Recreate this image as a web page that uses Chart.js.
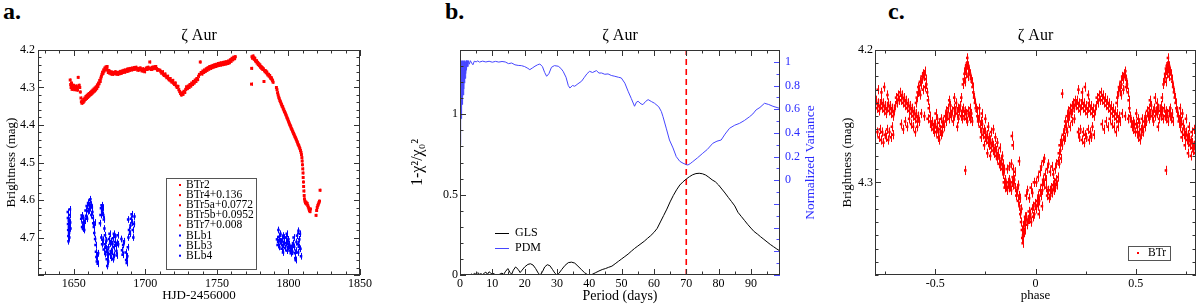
<!DOCTYPE html>
<html>
<head>
<title>zeta_aur</title>
<script src="https://cdn.jsdelivr.net/npm/chart.js"></script>
<style>
    body { margin: 0; background: #fff; width: 1200px; height: 305px; position: relative; overflow: hidden; }
    canvas { position: absolute; top: 0; }
    .tag { position: absolute; top: -1px; font: bold 24px/24px "Liberation Serif", "DejaVu Serif", serif; color: #000; }
</style>
</head>
<body>
<div class="tag" style="left:3px">a.</div>
<div class="tag" style="left:445px">b.</div>
<div class="tag" style="left:888px">c.</div>
<canvas id="chartA" width="400" height="305" style="left:0"></canvas>
<canvas id="chartB" width="420" height="305" style="left:400px"></canvas>
<canvas id="chartC" width="380" height="305" style="left:820px"></canvas>
<script>
// ---- panel a: light curves [HJD-2456000, mag] ----
const btr2 = [[1647.5,4.280],[1647.8,4.292],[1648.1,4.300],[1648.4,4.288],[1648.8,4.305],[1649.1,4.296],[1649.5,4.302],[1649.8,4.294],[1650.2,4.300],[1650.6,4.306],[1651.0,4.298],[1651.4,4.303],[1651.8,4.296],[1652.2,4.301],[1652.6,4.307],[1653.1,4.273],[1653.4,4.299],[1653.8,4.294],[1654.2,4.300],[1654.6,4.312],[1655.0,4.328],[1655.3,4.338],[1655.7,4.342],[1656.1,4.336],[1656.5,4.340],[1656.9,4.332],[1657.3,4.336],[1657.7,4.328],[1658.1,4.332],[1658.5,4.324],[1658.9,4.329],[1659.3,4.321],[1659.7,4.326],[1660.1,4.318],[1660.5,4.323],[1660.9,4.316],[1661.3,4.320],[1661.7,4.313],[1662.1,4.318],[1662.5,4.310],[1662.9,4.315],[1663.3,4.307],[1663.7,4.312],[1664.1,4.304],[1664.5,4.309],[1664.9,4.301],[1665.3,4.306],[1665.7,4.298],[1666.1,4.302],[1666.5,4.293],[1666.9,4.297],[1667.3,4.288],[1667.7,4.290],[1668.1,4.281],[1668.5,4.284],[1668.9,4.275],[1669.3,4.270],[1669.7,4.265],[1670.1,4.259],[1670.5,4.262],[1670.9,4.253],[1671.3,4.256],[1671.7,4.248],[1672.1,4.252],[1672.5,4.245],[1672.9,4.250],[1673.3,4.244],[1673.7,4.254],[1674.1,4.260],[1674.6,4.255],[1675.1,4.262],[1675.6,4.258],[1676.1,4.264],[1676.7,4.259],[1677.3,4.265],[1677.9,4.260],[1678.5,4.263],[1679.1,4.258],[1679.7,4.264],[1680.3,4.260],[1680.9,4.265],[1681.5,4.259],[1682.1,4.263],[1682.7,4.257],[1683.3,4.262],[1683.9,4.256],[1684.5,4.260],[1685.1,4.254],[1685.7,4.259],[1686.3,4.253],[1686.9,4.257],[1687.5,4.251],[1688.1,4.256],[1688.7,4.250],[1689.3,4.254],[1689.9,4.249],[1690.5,4.253],[1691.1,4.248],[1691.7,4.252],[1692.3,4.247],[1692.9,4.251],[1693.5,4.246],[1694.1,4.250],[1694.7,4.254],[1695.3,4.249],[1695.9,4.253],[1696.5,4.248],[1697.1,4.252],[1697.7,4.256],[1698.3,4.250],[1698.9,4.254],[1699.5,4.258],[1700.1,4.252],[1700.7,4.248],[1701.3,4.252],[1701.9,4.246],[1702.5,4.250],[1703.1,4.232],[1703.7,4.248],[1704.3,4.252],[1704.9,4.246],[1705.5,4.250],[1706.1,4.245],[1706.7,4.249],[1707.3,4.244],[1707.9,4.250],[1708.5,4.254],[1709.0,4.252]];
const btr4 = [[1710.2,4.254],[1710.8,4.258],[1711.4,4.262],[1712.0,4.258],[1712.6,4.265],[1713.2,4.268],[1713.8,4.264],[1714.4,4.270],[1715.0,4.274],[1715.6,4.270],[1716.2,4.277],[1716.8,4.280],[1717.4,4.276],[1718.0,4.283],[1718.6,4.286],[1719.2,4.281],[1719.8,4.289],[1720.4,4.292],[1721.0,4.288],[1721.6,4.296],[1722.2,4.300],[1722.8,4.297],[1723.4,4.306],[1724.0,4.311],[1724.6,4.316],[1725.2,4.320],[1725.8,4.314],[1726.4,4.318],[1727.0,4.310],[1727.6,4.313],[1728.2,4.305],[1728.8,4.298],[1729.4,4.303],[1730.0,4.296],[1730.6,4.300],[1731.2,4.292],[1731.8,4.296],[1732.4,4.288],[1733.0,4.292],[1733.6,4.284],[1734.2,4.288],[1734.8,4.280],[1735.4,4.284],[1736.0,4.276],[1736.6,4.279],[1737.2,4.270],[1737.8,4.265],[1738.4,4.232],[1739.0,4.260],[1739.6,4.264],[1740.2,4.256],[1740.8,4.260],[1741.4,4.253],[1742.0,4.257],[1742.6,4.250],[1743.2,4.254],[1743.8,4.247],[1744.4,4.251],[1745.0,4.244],[1745.6,4.249],[1746.2,4.243],[1746.8,4.247],[1747.4,4.241],[1748.0,4.245],[1748.6,4.239],[1749.2,4.244],[1749.8,4.238],[1750.4,4.242],[1751.0,4.236],[1751.6,4.241],[1752.2,4.235],[1752.8,4.240],[1753.4,4.234],[1754.0,4.239],[1754.6,4.233],[1755.2,4.238],[1755.8,4.232],[1756.4,4.237],[1757.0,4.231],[1757.6,4.236],[1758.2,4.229],[1758.8,4.234],[1759.4,4.226],[1760.0,4.230],[1760.6,4.222],[1761.2,4.226],[1761.8,4.219],[1762.4,4.223],[1762.9,4.218]];
const btr5a = [[1774.2,4.291],[1774.3,4.249],[1774.5,4.218],[1774.9,4.222],[1775.3,4.216],[1775.7,4.221],[1776.1,4.225],[1776.5,4.222],[1776.9,4.228],[1777.3,4.231],[1777.7,4.229],[1778.1,4.235],[1778.5,4.233],[1778.9,4.239],[1779.3,4.237],[1779.7,4.242],[1780.1,4.240],[1780.5,4.246],[1780.9,4.244],[1781.3,4.249],[1781.7,4.247],[1782.1,4.252],[1782.5,4.250],[1782.9,4.284],[1783.3,4.255],[1783.7,4.258],[1784.1,4.256],[1784.5,4.261],[1784.9,4.259],[1785.3,4.264],[1785.7,4.267],[1786.1,4.265],[1786.5,4.270],[1786.9,4.268],[1787.3,4.273],[1787.7,4.276],[1788.1,4.274],[1788.5,4.279],[1788.9,4.282],[1789.3,4.286]];
const btr5b = [[1791.6,4.300],[1792.0,4.306],[1792.4,4.314],[1792.8,4.320],[1793.2,4.326],[1793.6,4.330],[1794.0,4.335],[1794.4,4.338],[1794.8,4.342],[1795.2,4.346],[1795.6,4.350],[1796.0,4.352],[1796.4,4.357],[1796.8,4.360],[1797.2,4.364],[1797.6,4.367],[1798.0,4.371],[1798.4,4.374],[1798.8,4.379],[1799.2,4.382],[1799.6,4.386],[1800.0,4.390],[1800.4,4.394],[1800.8,4.398],[1801.2,4.401],[1801.6,4.405],[1802.0,4.409],[1802.4,4.412],[1802.8,4.416],[1803.2,4.419],[1803.6,4.423],[1804.0,4.426],[1804.4,4.430],[1804.8,4.433],[1805.2,4.437],[1805.6,4.440],[1806.0,4.444],[1806.4,4.448],[1806.8,4.452],[1807.2,4.455],[1807.6,4.459],[1808.0,4.463],[1808.4,4.468],[1808.8,4.473],[1809.1,4.479],[1809.4,4.487],[1809.6,4.496],[1809.8,4.506],[1810.0,4.517],[1810.2,4.528],[1810.3,4.540],[1810.5,4.552],[1810.6,4.564],[1810.8,4.576],[1811.0,4.588],[1811.2,4.597]];
const btr7 = [[1811.5,4.603],[1811.9,4.608],[1812.3,4.606],[1812.7,4.611],[1813.1,4.609],[1813.5,4.615],[1813.9,4.619],[1814.3,4.624],[1814.7,4.628],[1815.1,4.631],[1815.4,4.624],[1819.3,4.641],[1819.7,4.628],[1820.1,4.620],[1820.5,4.615],[1820.9,4.611],[1821.3,4.607],[1821.7,4.603],[1822.1,4.574]];
const blb1 = [[1645.8,4.632],[1645.9,4.648],[1646.0,4.664],[1646.1,4.680],[1646.2,4.696],[1646.3,4.710],[1646.5,4.655],[1646.6,4.672],[1646.7,4.688],[1646.9,4.700],[1647.1,4.640],[1647.3,4.625],[1647.5,4.660],[1647.7,4.676],[1655.2,4.650],[1655.5,4.641],[1655.8,4.672],[1656.1,4.660],[1656.4,4.676],[1656.7,4.648],[1657.0,4.665],[1657.3,4.680],[1657.6,4.655]];
const blb3 = [[1658.2,4.628],[1658.6,4.642],[1659.0,4.616],[1659.3,4.650],[1659.6,4.630],[1660.0,4.608],[1660.3,4.628],[1660.6,4.614],[1661.0,4.600],[1661.3,4.622],[1661.6,4.598],[1662.0,4.612],[1662.3,4.640],[1662.6,4.620],[1663.0,4.632],[1663.3,4.648],[1663.6,4.662],[1664.0,4.672],[1664.3,4.688],[1664.6,4.660],[1664.9,4.704],[1665.2,4.720],[1665.5,4.738],[1665.8,4.752],[1666.1,4.764],[1666.4,4.748],[1666.7,4.770],[1667.0,4.742],[1668.3,4.662],[1668.7,4.640],[1669.0,4.622],[1669.4,4.614],[1669.8,4.630],[1670.2,4.620],[1670.6,4.640],[1671.0,4.652],[1671.4,4.676],[1671.8,4.694],[1669.3,4.700],[1669.8,4.718],[1670.4,4.706],[1670.9,4.732],[1671.5,4.718],[1672.0,4.744],[1672.5,4.728],[1673.0,4.758],[1673.4,4.776],[1673.8,4.746],[1674.2,4.726],[1674.6,4.704],[1675.0,4.690],[1675.4,4.716],[1675.8,4.736],[1676.2,4.754],[1676.6,4.738],[1677.0,4.718],[1677.4,4.702],[1677.8,4.726],[1678.2,4.746],[1678.6,4.712],[1679.0,4.698],[1679.4,4.722],[1679.8,4.736],[1680.2,4.714],[1680.6,4.694],[1681.0,4.718],[1673.2,4.738],[1674.0,4.764],[1676.0,4.710],[1678.0,4.690],[1672.8,4.708],[1675.2,4.744],[1677.6,4.758],[1680.0,4.748],[1683.3,4.704],[1683.7,4.734],[1684.1,4.746],[1684.5,4.720],[1685.0,4.710],[1686.2,4.740],[1686.6,4.760],[1687.0,4.768],[1687.4,4.750],[1687.8,4.726],[1688.2,4.700],[1688.6,4.680],[1688.0,4.652],[1689.2,4.690],[1689.6,4.668],[1690.0,4.650],[1690.4,4.638],[1690.8,4.660],[1691.2,4.680],[1691.6,4.700],[1692.0,4.664],[1692.4,4.644]];
const blb4 = [[1792.0,4.705],[1792.4,4.720],[1792.8,4.712],[1793.2,4.698],[1793.6,4.725],[1794.0,4.710],[1794.4,4.690],[1794.8,4.715],[1795.2,4.730],[1795.6,4.705],[1796.0,4.695],[1796.4,4.720],[1796.8,4.712],[1797.2,4.700],[1797.6,4.728],[1798.0,4.715],[1798.4,4.700],[1798.8,4.690],[1799.2,4.712],[1799.6,4.725],[1800.0,4.705],[1800.4,4.718],[1800.8,4.735],[1801.2,4.728],[1801.6,4.742],[1802.0,4.730],[1802.4,4.722],[1802.8,4.738],[1803.2,4.715],[1803.6,4.700],[1804.0,4.725],[1804.4,4.742],[1804.8,4.755],[1805.2,4.735],[1805.6,4.712],[1806.0,4.695],[1806.4,4.718],[1806.8,4.740],[1807.2,4.725],[1807.6,4.705],[1808.0,4.690],[1808.4,4.730],[1808.8,4.750],[1793.0,4.680],[1796.2,4.740],[1799.0,4.735],[1805.0,4.760],[1807.0,4.682]];

// ---- panel b: periodograms [period (days), value] ----
const gls = [[0,0],[0.5,0.002],[1,0],[1.5,0.004],[2,0.001],[2.5,0.003],[3,0],[3.5,0.006],[4,0.002],[4.5,0.01],[5,0.004],[5.5,0.015],[6,0.005],[6.5,0.008],[7,0.002],[7.5,0.012],[8,0.018],[8.5,0.004],[9,0.02],[9.5,0.012],[10,0.004],[10.5,0.01],[11,0],[12,0.002],[13,0.012],[13.5,0.003],[14,0.02],[14.8,0.04],[15.5,0.015],[16,0.005],[16.5,0.03],[17.2,0.05],[18,0.035],[18.6,0.015],[19.2,0.03],[20,0.05],[21,0.066],[21.8,0.07],[22.6,0.062],[23.4,0.04],[24.2,0.012],[24.8,0],[25.5,0.02],[26.2,0.05],[27,0.064],[27.8,0.058],[28.6,0.035],[29.4,0.01],[30,0],[30.6,0.01],[31.5,0.035],[32.5,0.06],[33.5,0.077],[34.5,0.08],[35.5,0.074],[36.5,0.055],[37.5,0.035],[38.5,0.015],[39.6,0],[40.5,0],[41,0.005],[42,0.015],[43,0.025],[44,0.034],[45,0.04],[46,0.048],[47,0.055],[48,0.07],[49,0.085],[50,0.1],[51,0.115],[52,0.13],[53,0.148],[54,0.165],[55,0.18],[56,0.195],[57,0.21],[58,0.228],[59,0.245],[60,0.265],[61,0.29],[62,0.33],[63,0.37],[64,0.41],[65,0.455],[66,0.495],[67,0.53],[68,0.56],[69,0.58],[70,0.597],[71,0.612],[72,0.624],[73,0.631],[74,0.633],[75,0.63],[76,0.622],[77,0.608],[78,0.592],[79,0.58],[80,0.56],[81,0.535],[82,0.51],[83,0.483],[84,0.457],[85,0.43],[86,0.39],[87,0.365],[88,0.34],[89,0.315],[90,0.292],[91,0.27],[92,0.255],[93,0.238],[94,0.222],[95,0.206],[96,0.19],[97,0.176],[98,0.162],[98.8,0.152]];
const pdm = [[0,0.30],[0.1,0.95],[0.15,0.40],[0.2,1.00],[0.25,0.46],[0.3,0.99],[0.35,0.52],[0.4,1.01],[0.45,0.56],[0.5,0.99],[0.55,0.60],[0.6,1.00],[0.65,0.64],[0.7,1.01],[0.8,0.68],[0.9,1.00],[1.0,0.72],[1.1,1.01],[1.2,0.77],[1.3,1.00],[1.4,0.82],[1.5,1.01],[1.6,0.86],[1.7,1.00],[1.8,0.90],[1.9,1.01],[2.0,0.93],[2.2,1.01],[2.4,0.96],[2.6,1.01],[2.9,0.98],[3.2,1.01],[3.6,0.99],[4.0,0.975],[4.4,1.005],[5,1.0],[5.5,1.008],[6,0.998],[7,1.006],[8,0.999],[9,1.005],[10,0.997],[11,1.004],[12,0.998],[13,1.003],[14,0.999],[15,0.985],[16,0.99],[17,0.975],[18,0.97],[19,0.968],[20,0.96],[21,0.945],[21.6,0.934],[22.5,0.95],[23.2,0.963],[24,0.975],[24.7,0.982],[25.5,0.96],[26.2,0.91],[26.8,0.878],[27.5,0.9],[28.3,0.954],[29.2,0.968],[30.4,0.963],[31.2,0.945],[31.9,0.92],[32.8,0.87],[33.5,0.8],[34,0.779],[34.8,0.8],[35.5,0.794],[36.5,0.815],[37.6,0.836],[38.5,0.87],[39.3,0.9],[40.1,0.92],[41,0.91],[42.2,0.926],[43,0.905],[43.8,0.906],[44.8,0.895],[45.8,0.898],[46.8,0.885],[47.9,0.878],[49,0.87],[49.9,0.864],[51,0.82],[52,0.752],[53,0.69],[54,0.625],[54.6,0.66],[55.1,0.667],[56,0.645],[56.6,0.639],[57.4,0.665],[58.2,0.681],[59.2,0.665],[60.2,0.65],[61.5,0.62],[62.3,0.58],[62.8,0.537],[63.8,0.44],[64.8,0.34],[65.9,0.273],[66.9,0.2],[68,0.16],[69,0.144],[70,0.132],[70.5,0.129],[71.2,0.14],[72,0.157],[73.5,0.19],[75.1,0.228],[76.5,0.26],[78.2,0.312],[79.5,0.33],[80.8,0.34],[82,0.39],[83.4,0.439],[85,0.465],[86.5,0.481],[88,0.505],[89.6,0.537],[90.6,0.56],[91.6,0.594],[92.8,0.615],[94.2,0.65],[95.5,0.64],[96.8,0.625],[98.8,0.608]];
const bestPeriod = 70;

// ---- panel c: BTr folded, one cycle [phase, mag] ----
const btrCycle = [[-0.500,4.256],[-0.496,4.262],[-0.492,4.258],[-0.488,4.266],[-0.484,4.262],[-0.480,4.268],[-0.476,4.260],[-0.472,4.264],[-0.468,4.258],[-0.464,4.262],[-0.460,4.254],[-0.456,4.258],[-0.498,4.248],[-0.490,4.252],[-0.482,4.255],[-0.470,4.252],
[-0.452,4.250],[-0.448,4.254],[-0.444,4.246],[-0.440,4.250],[-0.436,4.244],[-0.432,4.252],[-0.428,4.248],[-0.424,4.242],[-0.420,4.250],[-0.416,4.246],[-0.412,4.254],[-0.408,4.244],[-0.404,4.250],[-0.400,4.246],[-0.396,4.240],[-0.392,4.248],[-0.388,4.244],[-0.384,4.252],[-0.380,4.246],[-0.376,4.242],[-0.372,4.250],[-0.368,4.246],[-0.364,4.252],[-0.360,4.244],[-0.356,4.250],[-0.352,4.246],[-0.348,4.252],[-0.344,4.248],[-0.340,4.254],[-0.336,4.246],[-0.332,4.250],[-0.328,4.244],[-0.324,4.252],[-0.320,4.248],[-0.316,4.254],[-0.430,4.238],[-0.405,4.236],[-0.390,4.258],[-0.370,4.236],[-0.350,4.291],
[-0.362,4.226],[-0.358,4.222],[-0.354,4.218],[-0.350,4.214],[-0.346,4.212],[-0.342,4.210],[-0.338,4.214],[-0.334,4.212],[-0.330,4.216],[-0.326,4.218],[-0.322,4.222],[-0.318,4.224],[-0.314,4.228],[-0.310,4.232],[-0.306,4.236],[-0.302,4.240],[-0.298,4.244],[-0.294,4.246],[-0.290,4.250],[-0.344,4.218],[-0.336,4.220],[-0.352,4.224],[-0.340,4.206],
[-0.286,4.254],[-0.282,4.250],[-0.278,4.258],[-0.274,4.254],[-0.270,4.262],[-0.266,4.256],[-0.262,4.264],[-0.258,4.260],[-0.254,4.266],[-0.250,4.262],[-0.246,4.268],[-0.242,4.264],[-0.238,4.270],[-0.234,4.266],[-0.230,4.272],[-0.226,4.268],[-0.222,4.274],[-0.218,4.270],[-0.214,4.276],[-0.210,4.272],[-0.206,4.278],[-0.202,4.274],[-0.198,4.280],[-0.280,4.244],[-0.268,4.248],[-0.250,4.252],[-0.236,4.258],[-0.222,4.262],[-0.210,4.260],[-0.200,4.266],[-0.272,4.266],[-0.256,4.272],[-0.240,4.278],[-0.226,4.280],
[-0.196,4.276],[-0.192,4.282],[-0.188,4.278],[-0.184,4.286],[-0.180,4.282],[-0.176,4.288],[-0.172,4.284],[-0.168,4.290],[-0.164,4.286],[-0.160,4.294],[-0.156,4.290],[-0.190,4.270],[-0.178,4.274],[-0.166,4.280],
[-0.158,4.300],[-0.154,4.304],[-0.150,4.298],[-0.146,4.302],[-0.142,4.306],[-0.138,4.300],[-0.134,4.304],[-0.130,4.298],[-0.126,4.302],[-0.122,4.306],[-0.118,4.300],[-0.114,4.296],[-0.110,4.302],[-0.106,4.298],[-0.140,4.290],[-0.130,4.288],[-0.120,4.286],[-0.112,4.290],[-0.104,4.292],[-0.118,4.265],[-0.114,4.272],[-0.082,4.284],
[-0.100,4.304],[-0.096,4.310],[-0.092,4.306],[-0.088,4.314],[-0.084,4.310],[-0.080,4.318],[-0.076,4.324],[-0.072,4.330],[-0.068,4.336],[-0.066,4.342],[-0.064,4.346],[-0.062,4.340],[-0.060,4.334],[-0.058,4.338],[-0.056,4.330],[-0.054,4.336],[-0.052,4.326],[-0.070,4.320],[-0.078,4.312],[-0.086,4.302],
[-0.050,4.330],[-0.046,4.326],[-0.042,4.332],[-0.038,4.328],[-0.034,4.322],[-0.030,4.328],[-0.026,4.324],[-0.022,4.330],[-0.018,4.320],[-0.014,4.326],[-0.010,4.318],[-0.006,4.324],[-0.002,4.316],[-0.048,4.310],[-0.040,4.306],[-0.032,4.312],[-0.024,4.304],[-0.016,4.308],[-0.008,4.300],
[0.002,4.320],[0.006,4.314],[0.010,4.318],[0.014,4.310],[0.018,4.314],[0.022,4.306],[0.026,4.310],[0.030,4.302],[0.034,4.306],[0.038,4.298],[0.042,4.302],[0.046,4.294],[0.050,4.298],[0.004,4.300],[0.012,4.296],[0.020,4.292],[0.028,4.288],[0.036,4.284],[0.044,4.282],[0.016,4.324],[0.032,4.318],
[0.054,4.304],[0.058,4.310],[0.062,4.306],[0.066,4.312],[0.070,4.306],[0.074,4.310],[0.078,4.304],[0.082,4.308],[0.086,4.302],[0.090,4.306],[0.094,4.300],[0.098,4.304],[0.102,4.298],[0.106,4.302],[0.110,4.296],[0.056,4.290],[0.064,4.286],[0.072,4.292],[0.080,4.288],[0.088,4.294],[0.096,4.290],[0.104,4.286],
[0.112,4.284],[0.116,4.278],[0.120,4.272],[0.124,4.276],[0.128,4.268],[0.132,4.272],[0.136,4.264],[0.140,4.268],[0.118,4.286],[0.126,4.282],[0.133,4.233],
[0.144,4.260],[0.148,4.254],[0.152,4.258],[0.156,4.250],[0.160,4.254],[0.164,4.246],[0.168,4.250],[0.172,4.244],[0.176,4.248],[0.180,4.242],[0.184,4.246],[0.188,4.240],[0.192,4.244],[0.196,4.238],[0.146,4.266],[0.158,4.262],[0.170,4.258],[0.182,4.254],[0.194,4.252],
[0.200,4.242],[0.205,4.238],[0.210,4.244],[0.215,4.240],[0.220,4.246],[0.225,4.242],[0.230,4.238],[0.235,4.244],[0.240,4.240],[0.245,4.246],[0.250,4.242],[0.255,4.248],[0.260,4.244],[0.265,4.240],[0.270,4.246],[0.275,4.242],[0.280,4.248],[0.285,4.244],[0.290,4.250],[0.295,4.246],
[0.212,4.262],[0.218,4.266],[0.224,4.260],[0.230,4.268],[0.236,4.262],[0.242,4.270],[0.248,4.264],[0.254,4.266],[0.260,4.260],[0.266,4.268],[0.272,4.262],[0.278,4.266],[0.284,4.258],[0.290,4.264],[0.214,4.230],[0.232,4.232],[0.262,4.234],[0.246,4.228],
[0.300,4.242],[0.305,4.236],[0.310,4.240],[0.315,4.234],[0.320,4.238],[0.325,4.232],[0.330,4.238],[0.335,4.234],[0.340,4.240],[0.345,4.236],[0.350,4.242],[0.355,4.238],[0.360,4.244],[0.365,4.240],[0.370,4.246],[0.375,4.242],[0.380,4.248],[0.385,4.244],[0.390,4.250],[0.395,4.246],[0.400,4.252],[0.405,4.248],[0.410,4.254],[0.415,4.250],
[0.330,4.256],[0.340,4.260],[0.350,4.254],[0.360,4.258],[0.370,4.252],[0.380,4.256],[0.390,4.258],[0.400,4.262],[0.410,4.258],[0.420,4.254],
[0.404,4.240],[0.408,4.236],[0.412,4.232],[0.416,4.228],[0.420,4.230],[0.424,4.224],[0.428,4.226],[0.432,4.220],[0.436,4.222],[0.440,4.218],[0.444,4.220],[0.448,4.216],[0.452,4.222],[0.456,4.226],[0.460,4.232],[0.464,4.238],[0.468,4.244],[0.472,4.250],[0.426,4.234],[0.438,4.230],[0.450,4.228],
[0.476,4.254],[0.480,4.258],[0.484,4.254],[0.488,4.260],[0.492,4.256],[0.496,4.262],[0.430,4.248],[0.446,4.250],[0.462,4.252]];

const RED = '#ff0000';
const BLUE = '#0000ff';
const PDM_BLUE = '#4646ff';
const serif = '"Liberation Serif", "DejaVu Serif", serif';

const pts = a => a.map(([x, y]) => ({ x, y }));

function tickList(min, max, step) {
    const out = [];
    for (let k = Math.ceil(min / step - 1e-6); k * step <= max + 1e-9; k++) {
        out.push({ value: +(k * step).toFixed(6) });
    }
    return out;
}
const isMult = (v, m) => Math.abs(v / m - Math.round(v / m)) < 1e-6;
const fmt = v => String(+v.toFixed(3));

// box + inward ticks like xmgrace
function makeFrame(axes) {
    return {
        id: 'frame',
        afterDatasetsDraw(chart) {
            const { ctx, chartArea: a } = chart;
            ctx.save();
            ctx.lineWidth = 1;
            for (const [id, cfg] of Object.entries(axes)) {
                const s = chart.scales[id];
                ctx.strokeStyle = cfg.color || '#333';
                ctx.beginPath();
                for (const t of s.ticks) {
                    const p = Math.round(s.getPixelForValue(t.value)) + 0.5;
                    const len = isMult(t.value, cfg.major) ? 6 : 3.5;
                    for (const side of cfg.sides) {
                        if (side === 'bottom') { ctx.moveTo(p, a.bottom); ctx.lineTo(p, a.bottom - len); }
                        if (side === 'top') { ctx.moveTo(p, a.top); ctx.lineTo(p, a.top + len); }
                        if (side === 'left') { ctx.moveTo(a.left, p); ctx.lineTo(a.left + len, p); }
                        if (side === 'right') { ctx.moveTo(a.right, p); ctx.lineTo(a.right - len, p); }
                    }
                }
                ctx.stroke();
            }
            ctx.strokeStyle = '#333';
            ctx.strokeRect(Math.round(a.left) + 0.5, Math.round(a.top) + 0.5, Math.round(a.width) - 1, Math.round(a.height) - 1);
            ctx.restore();
        }
    };
}

const errorBars = {
    id: 'errorBars',
    beforeDatasetsDraw(chart) {
        const { ctx, chartArea: a } = chart;
        const ys = chart.scales.y;
        ctx.save();
        ctx.beginPath();
        ctx.rect(a.left, a.top, a.width, a.height);
        ctx.clip();
        chart.data.datasets.forEach((ds, i) => {
            if (!ds.errY) return;
            const meta = chart.getDatasetMeta(i);
            ctx.strokeStyle = ds.backgroundColor;
            ctx.lineWidth = 1;
            ctx.beginPath();
            meta.data.forEach((el, j) => {
                const v = ds.data[j].y;
                const x = Math.round(el.x) + 0.5;
                ctx.moveTo(x, ys.getPixelForValue(v - ds.errY));
                ctx.lineTo(x, ys.getPixelForValue(v + ds.errY));
            });
            ctx.stroke();
        });
        ctx.restore();
    }
};

// legend drawn inside the plot, like the original
function makeLegend(cfg) {
    return {
        id: 'insideLegend',
        afterDraw(chart) {
            const { ctx } = chart;
            ctx.save();
            if (cfg.box) {
                ctx.strokeStyle = '#555';
                ctx.lineWidth = 1;
                ctx.strokeRect(cfg.box[0] + 0.5, cfg.box[1] + 0.5, cfg.box[2], cfg.box[3]);
            }
            ctx.font = cfg.size + 'px ' + serif;
            ctx.textBaseline = 'middle';
            ctx.fillStyle = '#000';
            const items = chart.data.datasets.filter(d => d.label);
            items.forEach((d, i) => {
                const y = cfg.y + i * cfg.rowH;
                if (cfg.marker === 'line') {
                    ctx.strokeStyle = d.borderColor;
                    ctx.lineWidth = 1;
                    ctx.beginPath();
                    ctx.moveTo(cfg.mx, Math.round(y) + 0.5);
                    ctx.lineTo(cfg.mx + cfg.mw, Math.round(y) + 0.5);
                    ctx.stroke();
                } else {
                    ctx.fillStyle = d.backgroundColor;
                    ctx.fillRect(cfg.mx - 1, y - 1, 2, 2);
                }
                ctx.fillStyle = '#000';
                ctx.fillText(d.label, cfg.tx, y);
            });
            ctx.restore();
        }
    };
}

function titleOpts() {
    return {
        display: true, text: 'ζ Aur', color: '#000', fullSize: false,
        font: { family: serif, size: 16, weight: 'normal', lineHeight: 1 },
        padding: { top: 28, bottom: 6 }
    };
}

function axis(min, max, step, major, extra) {
    return Object.assign({
        type: 'linear', min, max,
        afterBuildTicks: s => { s.ticks = tickList(min, max, step); },
        grid: { display: false, drawTicks: false },
        border: { display: false },
        ticks: {
            autoSkip: false, maxRotation: 0, padding: 2, color: '#000',
            font: { family: serif, size: 12 },
            callback: v => isMult(v, major) ? fmt(v) : ''
        }
    }, extra);
}

function axisTitle(text, size, pad, color) {
    return { display: true, text, color: color || '#000', font: { family: serif, size, lineHeight: 1 }, padding: { top: pad, bottom: pad } };
}

function scatterSet(label, data, color, err, r) {
    return {
        label, data: pts(data), backgroundColor: color, borderColor: color,
        pointStyle: 'rect', pointRadius: r, pointBorderWidth: 0, errY: err
    };
}

// ---------- panel a ----------
new Chart(document.getElementById('chartA'), {
    type: 'scatter',
    data: {
        datasets: [
            scatterSet('BTr2', btr2, RED, 0.004, 2.1),
            scatterSet('BTr4+0.136', btr4, RED, 0.004, 2.1),
            scatterSet('BTr5a+0.0772', btr5a, RED, 0.004, 2.1),
            scatterSet('BTr5b+0.0952', btr5b, RED, 0.004, 2.1),
            scatterSet('BTr7+0.008', btr7, RED, 0.004, 2.1),
            scatterSet('BLb1', blb1, BLUE, 0.009, 1.8),
            scatterSet('BLb3', blb3, BLUE, 0.009, 1.8),
            scatterSet('BLb4', blb4, BLUE, 0.009, 1.8)
        ]
    },
    options: {
        responsive: false, animation: false, events: [],
        layout: { padding: { left: 0, right: 40, top: 0, bottom: 0 } },
        plugins: { legend: { display: false }, tooltip: { enabled: false }, title: titleOpts() },
        scales: {
            x: axis(1625, 1850, 10, 50, {
                afterFit: s => { s.height = 30; },
                title: { display: true, text: 'HJD-2456000', color: '#000', font: { family: serif, size: 13, lineHeight: 1 }, padding: { top: 0, bottom: 3 } }
            }),
            y: axis(4.2, 4.8, 0.02, 0.1, {
                reverse: true,
                afterFit: s => { s.width = 38; },
                title: axisTitle('Brightness (mag)', 13, 5),
                ticks: {
                    autoSkip: false, padding: 3, color: '#000', font: { family: serif, size: 12 },
                    callback: v => (v < 4.79 && isMult(v, 0.1)) ? fmt(v) : ''
                }
            })
        }
    },
    plugins: [errorBars, makeFrame({ x: { major: 50, sides: ['bottom', 'top'] }, y: { major: 0.1, sides: ['left', 'right'] } }),
        makeLegend({ box: [166, 178, 90, 91], y: 185, rowH: 10.1, mx: 180, tx: 186, size: 11.5 })]
});

// ---------- panel b ----------
new Chart(document.getElementById('chartB'), {
    type: 'scatter',
    data: {
        datasets: [
            { label: 'GLS', data: pts(gls), showLine: true, borderColor: '#000', backgroundColor: '#000', borderWidth: 1, pointRadius: 0, yAxisID: 'y' },
            { label: 'PDM', data: pts(pdm), showLine: true, borderColor: PDM_BLUE, backgroundColor: PDM_BLUE, borderWidth: 1, pointRadius: 0, yAxisID: 'y2' },
            { data: [{ x: bestPeriod, y: 0 }, { x: bestPeriod, y: 1.4 }], showLine: true, borderColor: RED, borderWidth: 1.6, borderDash: [6, 4], pointRadius: 0, yAxisID: 'y' }
        ]
    },
    options: {
        responsive: false, animation: false, events: [],
        layout: { padding: 0 },
        plugins: { legend: { display: false }, tooltip: { enabled: false }, title: titleOpts() },
        scales: {
            x: axis(0, 99, 5, 10, {
                afterFit: s => { s.height = 30; },
                title: { display: true, text: 'Period (days)', color: '#000', font: { family: serif, size: 14, lineHeight: 1 }, padding: { top: 0, bottom: 2 } }
            }),
            y: axis(0, 1.4, 0.1, 0.5, {
                afterFit: s => { s.width = 60; },
                title: axisTitle('1-χ²/χ₀²', 16, 10)
            }),
            y2: axis(-0.8, 1.1, 0.1, 0.2, {
                position: 'right',
                afterFit: s => { s.width = 40; },
                ticks: {
                    autoSkip: false, padding: 5, color: '#2a2aff', font: { family: serif, size: 12 },
                    callback: v => (v >= -1e-9 && isMult(v, 0.2)) ? fmt(v) : ''
                }
            })
        }
    },
    plugins: [
        makeFrame({ x: { major: 10, sides: ['bottom', 'top'] }, y: { major: 0.5, sides: ['left'] }, y2: { major: 0.2, sides: ['right'], color: '#4a4aff' } }),
        makeLegend({ y: 233, rowH: 15, mx: 95, mw: 14, tx: 115, size: 12, marker: 'line' }),
        {
            id: 'rightTitle',
            afterDraw(chart) {
                const { ctx, chartArea: a } = chart;
                ctx.save();
                ctx.translate(410, (a.top + a.bottom) / 2);
                ctx.rotate(-Math.PI / 2);
                ctx.font = '13.5px ' + serif;
                ctx.fillStyle = '#2a2aff';
                ctx.textAlign = 'center';
                ctx.textBaseline = 'middle';
                ctx.fillText('Normalized Variance', 0, 0);
                ctx.restore();
            }
        }
    ]
});

// ---------- panel c ----------
const folded = [];
btrCycle.forEach(([p, m]) => {
    [p - 1, p, p + 1].forEach(q => { if (q >= -0.8 && q <= 0.8) folded.push([q, m]); });
});

new Chart(document.getElementById('chartC'), {
    type: 'scatter',
    data: { datasets: [scatterSet('BTr', folded, RED, 0.0035, 1.8)] },
    options: {
        responsive: false, animation: false, events: [],
        layout: { padding: { left: 0, right: 3, top: 0, bottom: 0 } },
        plugins: { legend: { display: false }, tooltip: { enabled: false }, title: titleOpts() },
        scales: {
            x: axis(-0.8, 0.8, 0.25, 0.5, {
                afterFit: s => { s.height = 30; },
                title: { display: true, text: 'phase', color: '#000', font: { family: serif, size: 13, lineHeight: 1 }, padding: { top: 0, bottom: 3 } }
            }),
            y: axis(4.2, 4.37, 0.01, 0.1, {
                reverse: true,
                afterFit: s => { s.width = 55; },
                title: axisTitle('Brightness (mag)', 13, 21)
            })
        }
    },
    plugins: [errorBars, makeFrame({ x: { major: 0.5, sides: ['bottom', 'top'] }, y: { major: 0.1, sides: ['left', 'right'] } }),
        makeLegend({ box: [308, 246, 42, 14], y: 253, rowH: 12, mx: 318, tx: 328, size: 11.5 })]
});
</script>
</body>
</html>
